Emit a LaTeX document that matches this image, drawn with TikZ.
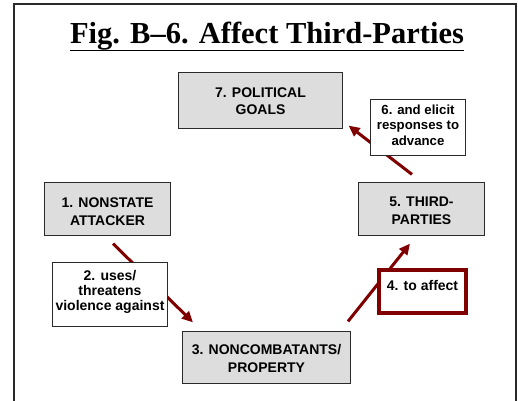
\documentclass[tikz,border=0pt]{standalone}
\usepackage{fontspec}
\setmainfont{Liberation Serif}
\newfontfamily\arialf{Liberation Sans}
\usetikzlibrary{arrows.meta}
\definecolor{maroonc}{HTML}{800000}
\definecolor{boxgray}{HTML}{DDDDDD}
\definecolor{edgegray}{HTML}{2A2A2A}
% \btext{width}{height}{first-baseline offset}{font size}{baselineskip}{lines}
\newcommand{\btext}[6]{\parbox[c][#2pt][t]{#1pt}{\fontsize{#4}{#5}\selectfont\arialf\bfseries\centering\rule{0pt}{#3pt}#6\par}}
\tikzset{
  graybox/.style={draw=edgegray, line width=1.2pt, fill=boxgray, inner sep=0pt, rectangle},
  whitebox/.style={draw=edgegray, line width=1.2pt, fill=white, inner sep=0pt, rectangle},
  redbox/.style={draw=maroonc, line width=3.8pt, fill=white, inner sep=0pt, rectangle},
  flow/.style={draw=maroonc, line width=3pt, -{Triangle[length=11pt,width=10pt]}},
  frameline/.style={draw=edgegray, line width=1.6pt}
}
\begin{document}
\begin{tikzpicture}[x=1pt,y=-1pt]
\useasboundingbox (0,0) rectangle (518,400);
\fill[white] (0,0) rectangle (518,400);
% frame
\coordinate (fbl) at (14,401);
\coordinate (ftl) at (14,4);
\coordinate (ftr) at (516,4);
\coordinate (fbr) at (516,401);
\draw[frameline] (fbl) -- (ftl) -- (ftr) -- (fbr);
% title
\node[anchor=base, inner sep=0pt, font=\fontsize{30.5}{34}\selectfont\bfseries] (title) at (267,43.5) {Fig. B--6. Affect Third-Parties};
\draw[line width=1.7pt] ([yshift=-7pt]title.base west) -- ([yshift=-7pt]title.base east);
% boxes
\node[graybox] (b7) at (260.5,100.5) {\btext{164}{56}{24.5}{14}{17}{7. POLITICAL\\GOALS}};
\node[graybox] (b1) at (107.5,209) {\btext{126}{53}{25.2}{14}{17.3}{1. NONSTATE\\ATTACKER}};
\node[graybox] (b5) at (421.5,209) {\btext{126}{53}{24.2}{14}{17.3}{5. THIRD-\\PARTIES}};
\node[graybox] (b3) at (266.5,357.5) {\btext{168}{52}{22.5}{14}{18.5}{3. NONCOMBATANTS/\\PROPERTY}};
% connectors
\draw[flow] ([shift={(5.5,7.5)}]b1.south) -- ([shift={(-73.5,-8.5)}]b3.north);
\draw[flow] ([shift={(81.5,-9.5)}]b3.north) -- ([shift={(-11.5,7.5)}]b5.south);
\draw[flow] ([shift={(-9.5,-7.5)}]b5.north) -- ([shift={(5.5,-3.5)}]b7.south east);
% label boxes
\node[whitebox] (b2) at (110,294.5) {\btext{115}{64}{18.2}{14}{14.8}{2. uses/\\threatens\\violence against}};
\node[whitebox] (b6) at (418,127.5) {\btext{95}{56}{14.5}{13.2}{15.6}{6. and elicit\\responses to\\advance}};
\node[redbox] (b4) at (422.5,291.4) {\btext{87.2}{43.5}{20.4}{14}{17}{4. to affect}};
\end{tikzpicture}
\end{document}
